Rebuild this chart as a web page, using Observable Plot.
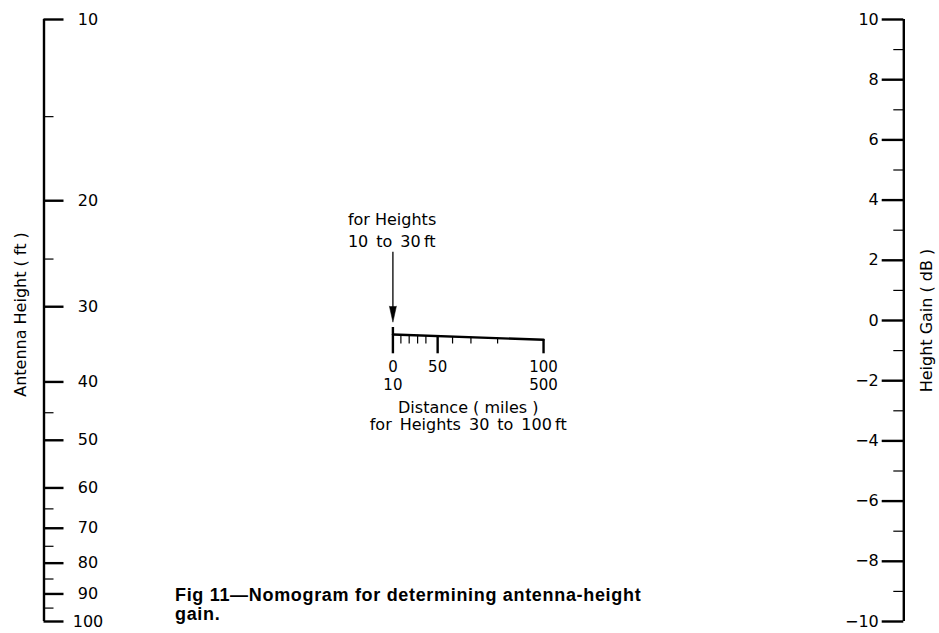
<!DOCTYPE html>
<html>
<head>
<meta charset="utf-8">
<script src="https://cdn.jsdelivr.net/npm/d3@7"></script>
<script src="https://cdn.jsdelivr.net/npm/@observablehq/plot@0.6"></script>
<style>
  body { margin: 0; background: #fff; }
  #wrap { position: relative; width: 939px; height: 633px; }
  #caption {
    position: absolute; left: 175px; top: 586px;
    font: bold 18px "Liberation Sans", Arial, sans-serif;
    letter-spacing: 0.68px;
    line-height: 18.6px; color: #000; white-space: nowrap;
  }
</style>
</head>
<body>
<div id="wrap">
  <div id="chart"></div>
  <div id="caption">Fig 11—Nomogram for determining antenna-height<br>gain.</div>
</div>
<script>
// ---------------- DATA ----------------
// Left scale: antenna height (ft), logarithmic
const heightMajor = [10, 20, 30, 40, 50, 60, 70, 80, 90, 100];
const heightMinor = [14.5, 25, 45, 65, 75, 85, 95];
// Right scale: height gain (dB), linear
const gainMajor = [10, 8, 6, 4, 2, 0, -2, -4, -6, -8, -10];
const gainMinor = [9, 7, 5, 3, 1, -1, -3, -5, -7, -9];
// Middle scale: distance (miles), non-linear
const distanceMajor = [0, 50, 100];
const distanceMinor = [10, 20, 30, 40, 60, 70, 80];
const distanceLowerAt = [0, 100];
const distanceLowerLabels = ["10", "500"];
// calibration of the non-linear distance scale (fraction of bar length)
const distanceCalib = [0, 10, 20, 30, 40, 50, 60, 70, 80, 100];
const distanceCalibFrac = [0, 0.053, 0.108, 0.164, 0.219, 0.297, 0.396, 0.518, 0.695, 1];

// ---------------- LAYOUT ----------------
const W = 939, H = 633;
const mL = 43.5, mR = 35.7, mT = 19, mB = 12;
const pxX = 1 / (W - mL - mR);          // one pixel in x units
const pxY = 20 / (H - mT - mB);         // one pixel in dB units
const heightToDb = h => 30 - 20 * Math.log10(h);

const barX0 = 0.4058, barX1 = 0.5810;   // bar extent (fraction of nomogram width)
const barY0 = -0.465, barY1 = -0.64;    // bar line ends (dB units)
const distX = d3.scaleLinear().domain(distanceCalib)
  .range(distanceCalibFrac.map(f => barX0 + f * (barX1 - barX0)));
const barY = x => barY0 + (x - barX0) / (barX1 - barX0) * (barY1 - barY0);
const majorBottom = barY0 - 19.3 * pxY;
const minorBottom = barY0 - 9.5 * pxY;
const zeroTop = barY0 + 7 * pxY;
const arrowTip = barY0 + 12.3 * pxY;
const arrowTop = arrowTip + 70 * pxY;

const font = "DejaVu Sans, Verdana, sans-serif";
const fmtGain = v => v < 0 ? "\u2212" + Math.abs(v) : String(v);
const sp = "\u2002";

const chart = Plot.plot({
  width: W, height: H,
  marginLeft: mL, marginRight: mR, marginTop: mT, marginBottom: mB,
  x: {domain: [0, 1], axis: null},
  y: {domain: [-10, 10], axis: null},
  style: {background: "white", color: "black", fontFamily: font, fontSize: "16px"},
  marks: [
    // axis lines
    Plot.ruleX([0, 1], {x: d => d, y1: -10, y2: 10, strokeWidth: 2.4}),
    // left (height) scale
    Plot.ruleY(heightMajor, {y: heightToDb, x1: 0, x2: 20 * pxX, strokeWidth: 2.4}),
    Plot.ruleY(heightMinor, {y: heightToDb, x1: 0, x2: 10 * pxX, strokeWidth: 1.2}),
    Plot.text(heightMajor, {x: 0, y: heightToDb, text: d => String(d), dx: 44,
      textAnchor: "middle", fontSize: 16, fontFamily: font}),
    Plot.text(["Antenna Height ( ft )"], {frameAnchor: "left", text: d => d, rotate: -90,
      textAnchor: "middle", dx: -23.5, dy: -6, fontSize: 16, fontFamily: font}),
    // right (gain) scale
    Plot.ruleY(gainMajor, {y: d => d, x1: 1 - 21.6 * pxX, x2: 1, strokeWidth: 2.4}),
    Plot.ruleY(gainMinor, {y: d => d, x1: 1 - 10 * pxX, x2: 1, strokeWidth: 1.2}),
    Plot.text(gainMajor, {x: 1, y: d => d, text: fmtGain, dx: -25,
      textAnchor: "end", fontSize: 16, fontFamily: font}),
    Plot.text(["Height Gain ( dB )"], {frameAnchor: "right", text: d => d, rotate: -90,
      textAnchor: "middle", dx: 23.5, dy: 0, fontSize: 16, fontFamily: font}),
    // middle (distance) scale
    Plot.line([0, 100], {x: d => distX(d), y: d => barY(distX(d)), strokeWidth: 2.4}),
    Plot.ruleX(distanceMinor, {x: d => distX(d), y1: d => barY(distX(d)), y2: minorBottom, strokeWidth: 1.2}),
    Plot.ruleX(distanceMajor, {x: d => distX(d), y1: d => d === 0 ? zeroTop : barY(distX(d)),
      y2: majorBottom, strokeWidth: 2.4}),
    Plot.text(distanceMajor, {x: d => distX(d), y: majorBottom, dy: 13.3, text: d => String(d),
      fontSize: 15, fontFamily: font}),
    Plot.text(distanceLowerAt, {x: d => distX(d), y: majorBottom, dy: 31.2,
      text: (d, i) => distanceLowerLabels[i], fontSize: 15, fontFamily: font}),
    Plot.text(["Distance ( miles )\nfor" + sp + "Heights" + sp + "30" + sp + "to" + sp + "100\u2009ft"], {
      x: (distX(0) + distX(100)) / 2, y: majorBottom, dy: 62, text: d => d,
      lineHeight: 1.08, fontSize: 16, fontFamily: font}),
    // arrow for heights 10 to 30 ft
    Plot.ruleX([0], {x: d => distX(d), y1: arrowTop, y2: arrowTip + 10 * pxY, strokeWidth: 1.3}),
    Plot.vector([0], {x: d => distX(d), y: arrowTip, rotate: 180, length: 16, anchor: "end",
      shape: "spike", r: 3.5, fill: "black", stroke: "black", strokeWidth: 0.5}),
    Plot.text(["for Heights\n10" + sp + "to" + sp + "30\u2009ft"], {
      x: distX(0), y: arrowTop, dx: -45, dy: -23.5, text: d => d, textAnchor: "start",
      lineHeight: 1.41, fontSize: 16, fontFamily: font})
  ]
});
document.getElementById("chart").appendChild(chart);
</script>
</body>
</html>
